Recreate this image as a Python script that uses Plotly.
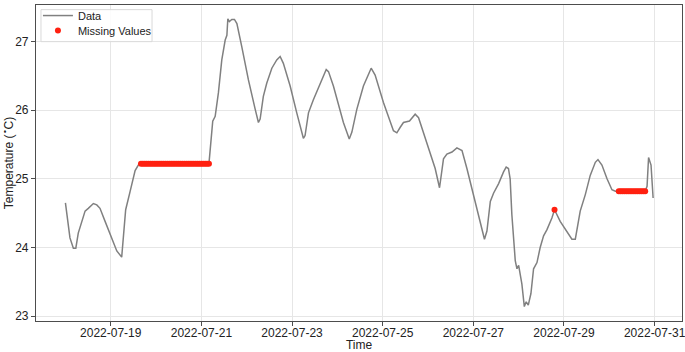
import plotly.graph_objects as go

data_time = [
    "2022-07-18 00:00", "2022-07-18 02:24", "2022-07-18 04:12", "2022-07-18 05:30", "2022-07-18 06:48",
    "2022-07-18 08:18", "2022-07-18 10:24", "2022-07-18 12:06", "2022-07-18 14:48", "2022-07-18 16:36",
    "2022-07-18 18:18", "2022-07-18 21:00", "2022-07-19 00:30", "2022-07-19 03:12", "2022-07-19 05:48",
    "2022-07-19 06:42", "2022-07-19 07:54", "2022-07-19 10:12", "2022-07-19 12:54", "2022-07-19 14:36",
    "2022-07-19 16:00", "2022-07-21 04:00", "2022-07-21 06:00", "2022-07-21 07:18", "2022-07-21 09:00",
    "2022-07-21 10:48", "2022-07-21 12:36", "2022-07-21 13:30", "2022-07-21 14:00", "2022-07-21 14:48",
    "2022-07-21 16:06", "2022-07-21 17:30", "2022-07-21 18:48", "2022-07-21 21:24", "2022-07-22 00:54",
    "2022-07-22 04:30", "2022-07-22 06:12", "2022-07-22 07:06", "2022-07-22 08:48", "2022-07-22 10:36",
    "2022-07-22 13:18", "2022-07-22 15:54", "2022-07-22 17:42", "2022-07-22 19:24", "2022-07-22 23:00",
    "2022-07-23 02:30", "2022-07-23 06:00", "2022-07-23 06:54", "2022-07-23 08:42", "2022-07-23 11:18",
    "2022-07-23 14:54", "2022-07-23 18:06", "2022-07-23 19:18", "2022-07-23 21:54", "2022-07-24 03:12",
    "2022-07-24 06:18", "2022-07-24 07:42", "2022-07-24 10:18", "2022-07-24 13:48", "2022-07-24 17:54",
    "2022-07-24 20:00", "2022-07-25 00:24", "2022-07-25 05:42", "2022-07-25 07:30", "2022-07-25 09:18",
    "2022-07-25 11:00", "2022-07-25 14:12", "2022-07-25 17:12", "2022-07-25 19:00", "2022-07-25 23:24",
    "2022-07-26 03:48", "2022-07-26 06:06", "2022-07-26 08:12", "2022-07-26 10:00", "2022-07-26 12:42",
    "2022-07-26 15:18", "2022-07-26 18:00", "2022-07-26 20:36", "2022-07-27 00:06", "2022-07-27 03:42",
    "2022-07-27 05:54", "2022-07-27 07:12", "2022-07-27 09:00", "2022-07-27 10:42", "2022-07-27 13:24",
    "2022-07-27 16:00", "2022-07-27 17:24", "2022-07-27 18:36", "2022-07-27 19:30", "2022-07-27 20:24",
    "2022-07-27 21:18", "2022-07-27 22:12", "2022-07-27 23:06", "2022-07-28 00:00", "2022-07-28 01:42",
    "2022-07-28 03:00", "2022-07-28 04:00", "2022-07-28 05:06", "2022-07-28 06:30", "2022-07-28 07:54",
    "2022-07-28 09:42", "2022-07-28 11:24", "2022-07-28 13:12", "2022-07-28 15:00", "2022-07-28 17:36",
    "2022-07-28 19:00", "2022-07-28 22:00", "2022-07-29 01:36", "2022-07-29 04:12", "2022-07-29 06:00",
    "2022-07-29 07:12", "2022-07-29 08:36", "2022-07-29 11:18", "2022-07-29 13:54", "2022-07-29 16:36",
    "2022-07-29 18:00", "2022-07-29 20:06", "2022-07-29 22:48", "2022-07-30 01:24", "2022-07-30 03:12",
    "2022-07-30 19:00", "2022-07-30 20:00", "2022-07-30 20:48", "2022-07-30 22:06", "2022-07-30 23:12",
]
data_temp = [
    24.65, 24.14, 23.99, 23.99, 24.21,
    24.36, 24.53, 24.57, 24.64, 24.62,
    24.57, 24.38, 24.14, 23.95, 23.86,
    24.14, 24.55, 24.81, 25.12, 25.20,
    25.22, 25.22, 25.84, 25.91, 26.25,
    26.73, 27.02, 27.09, 27.33, 27.29,
    27.32, 27.32, 27.26, 26.92, 26.44,
    26.01, 25.82, 25.87, 26.20, 26.39,
    26.61, 26.73, 26.78, 26.68, 26.35,
    25.96, 25.59, 25.63, 25.96, 26.15,
    26.39, 26.59, 26.56, 26.35, 25.82,
    25.58, 25.68, 26.01, 26.35, 26.61,
    26.51, 26.11, 25.70, 25.67, 25.75,
    25.82, 25.84, 25.94, 25.89, 25.53,
    25.15, 24.87, 25.29, 25.36, 25.39,
    25.45, 25.41, 25.15, 24.77, 24.38,
    24.12, 24.24, 24.67, 24.79, 24.93,
    25.10, 25.17, 25.15, 25.00, 24.48,
    24.09, 23.81, 23.69, 23.74, 23.47,
    23.14, 23.21, 23.16, 23.33, 23.69,
    23.78, 24.00, 24.17, 24.26, 24.43,
    24.55, 24.38, 24.24, 24.12, 24.12,
    24.29, 24.53, 24.77, 25.05, 25.24,
    25.28, 25.20, 25.00, 24.84, 24.82,
    24.82, 24.89, 25.31, 25.20, 24.72,
]

missing_time = [
    "2022-07-19 16:00", "2022-07-19 17:00", "2022-07-19 18:00", "2022-07-19 19:00",
    "2022-07-19 20:00", "2022-07-19 21:00", "2022-07-19 22:00", "2022-07-19 23:00",
    "2022-07-20 00:00", "2022-07-20 01:00", "2022-07-20 02:00", "2022-07-20 03:00",
    "2022-07-20 04:00", "2022-07-20 05:00", "2022-07-20 06:00", "2022-07-20 07:00",
    "2022-07-20 08:00", "2022-07-20 09:00", "2022-07-20 10:00", "2022-07-20 11:00",
    "2022-07-20 12:00", "2022-07-20 13:00", "2022-07-20 14:00", "2022-07-20 15:00",
    "2022-07-20 16:00", "2022-07-20 17:00", "2022-07-20 18:00", "2022-07-20 19:00",
    "2022-07-20 20:00", "2022-07-20 21:00", "2022-07-20 22:00", "2022-07-20 23:00",
    "2022-07-21 00:00", "2022-07-21 01:00", "2022-07-21 02:00", "2022-07-21 03:00",
    "2022-07-21 04:00",
    "2022-07-28 19:00",
    "2022-07-30 05:00", "2022-07-30 06:00", "2022-07-30 07:00", "2022-07-30 08:00",
    "2022-07-30 09:00", "2022-07-30 10:00", "2022-07-30 11:00", "2022-07-30 12:00",
    "2022-07-30 13:00", "2022-07-30 14:00", "2022-07-30 15:00", "2022-07-30 16:00",
    "2022-07-30 17:00", "2022-07-30 18:00", "2022-07-30 19:00",
]
missing_temp = [25.22] * 37 + [24.55] + [24.82] * 15

y_ticks = [23, 24, 25, 26, 27]
x_ticks = ["2022-07-19", "2022-07-21", "2022-07-23", "2022-07-25",
           "2022-07-27", "2022-07-29", "2022-07-31"]

fig = go.Figure()
fig.add_trace(go.Scatter(x=data_time, y=data_temp, mode="lines", name="Data",
                         line=dict(color="rgb(128,128,128)", width=1.5), legend="legend"))
fig.add_trace(go.Scatter(x=missing_time, y=missing_temp, mode="markers", name="Missing Values",
                         marker=dict(color="#ff2010", size=6, line=dict(width=0)), legend="legend2"))

axis_common = dict(showgrid=True, gridcolor="#e6e6e6", gridwidth=1,
                   showline=True, linecolor="#4d4d4d", linewidth=1.2, mirror=True,
                   ticks="outside", ticklen=4, tickcolor="#4d4d4d",
                   tickfont=dict(size=12, color="#222"), zeroline=False,
                   automargin=False, ticklabeloverflow="allow")

legend_common = dict(xanchor="left", yanchor="top", bgcolor="rgba(0,0,0,0)",
                     borderwidth=0, font=dict(size=11, color="#222"), itemwidth=30)

fig.update_layout(
    width=685, height=352,
    margin=dict(l=36, r=3, t=1, b=31),
    paper_bgcolor="white", plot_bgcolor="white",
    font=dict(family="Liberation Sans, Arial, sans-serif", color="#222"),
    xaxis=dict(**axis_common, type="date",
               range=["2022-07-17 08:25", "2022-07-31 14:30"],
               tickvals=x_ticks, ticktext=x_ticks, ticklabelstandoff=-4,
               title=dict(text="Time", font=dict(size=12), standoff=1)),
    yaxis=dict(**axis_common, range=[22.93, 27.53], tickvals=y_ticks,
               title=dict(text="Temperature (<sup>∘</sup>C)", font=dict(size=12), standoff=4)),
    legend=dict(**legend_common, x=0.003, y=1.0125),
    legend2=dict(**legend_common, x=0.003, y=0.9655),
    shapes=[dict(type="rect", xref="paper", yref="paper", x0=0.0077, x1=0.1796,
                 y0=0.884, y1=0.9853, layer="above",
                 line=dict(color="#d9d9d9", width=1), fillcolor="rgba(255,255,255,0.85)")],
    showlegend=True,
)

fig.write_html("out.html", config={"displayModeBar": False},
               post_script="document.body.style.margin='0';document.body.style.overflow='hidden';")
